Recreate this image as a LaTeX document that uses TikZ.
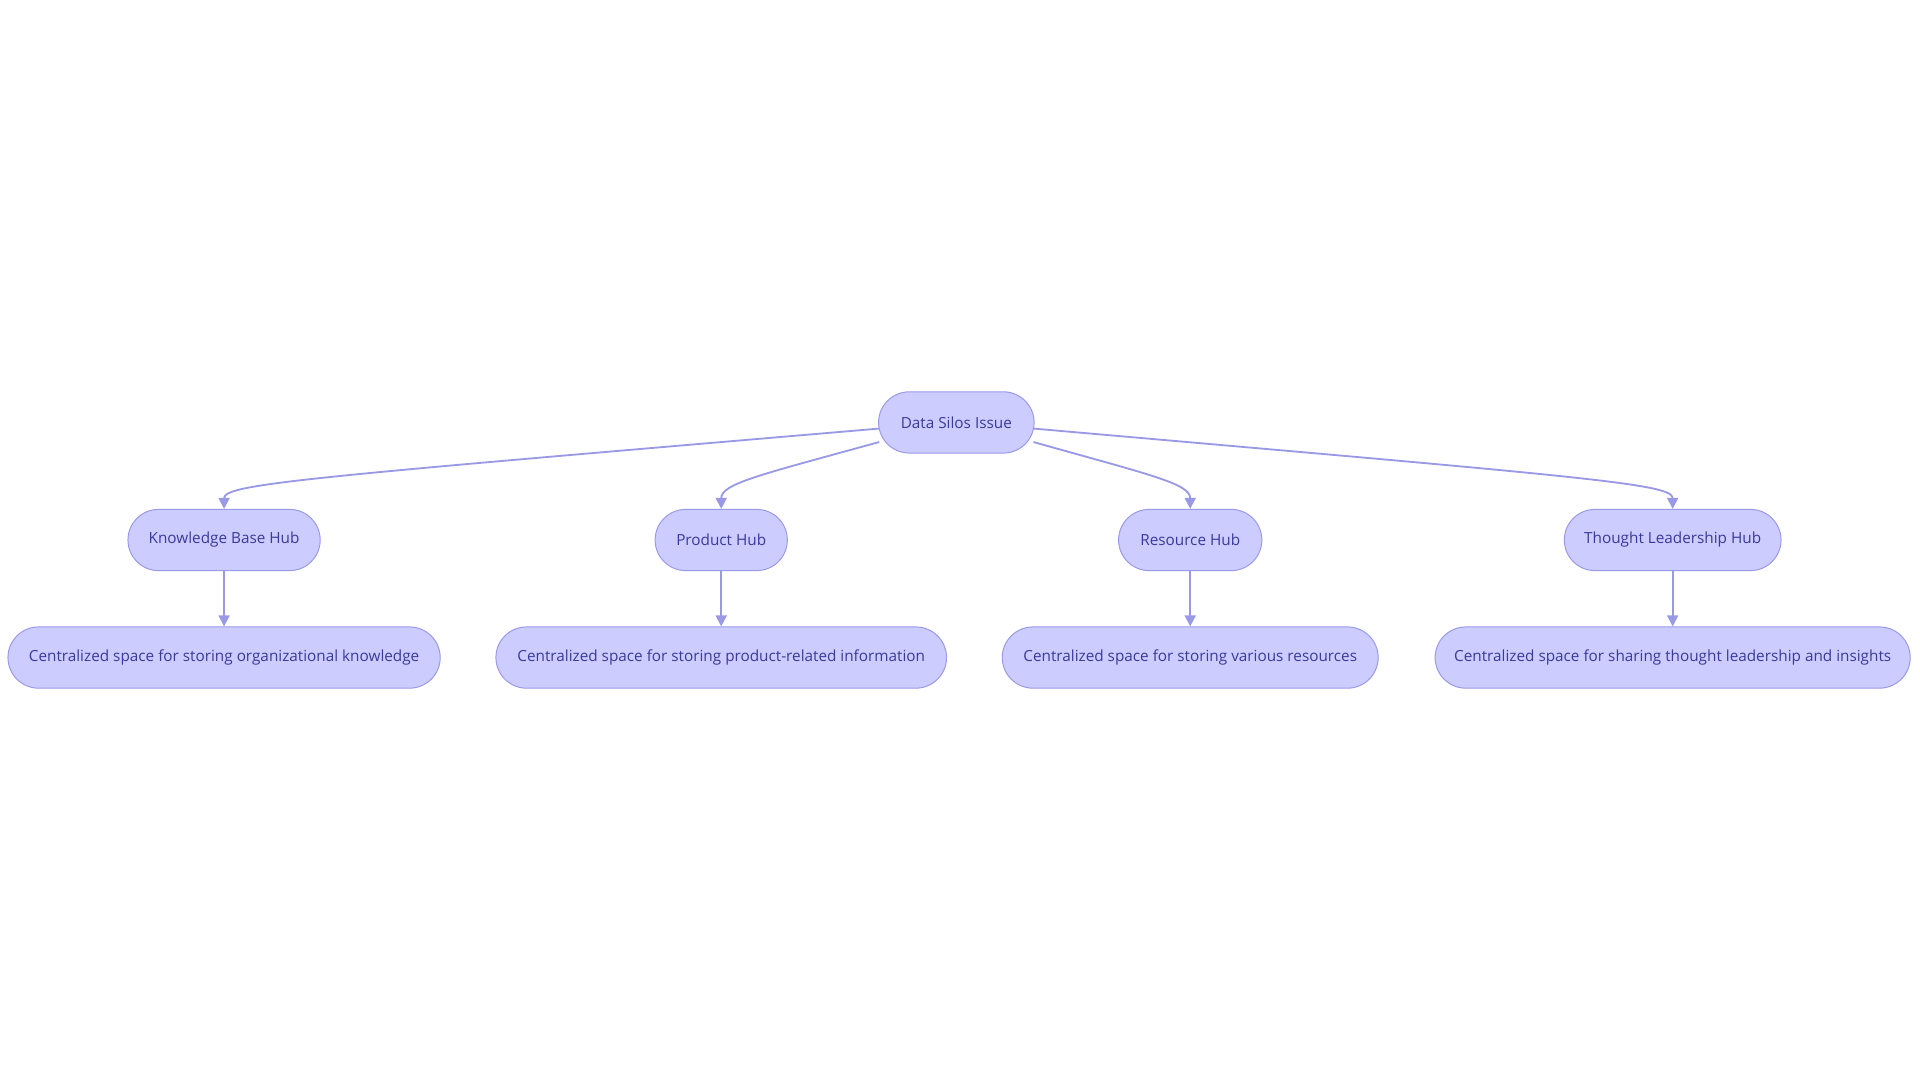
\documentclass[tikz,border=0pt]{standalone}
\usepackage{fontspec}
\setmainfont{Open Sans}
\usetikzlibrary{arrows.meta}
\definecolor{nfill}{HTML}{CCCCFF}
\definecolor{nline}{HTML}{9999E6}
\definecolor{ntext}{HTML}{3A3A9A}
\begin{document}
\begin{tikzpicture}[x=1pt,y=-1pt,
 box/.style={draw=nline,fill=nfill,rounded corners=25pt,minimum height=50pt,text=ntext,font=\fontsize{12.5}{14}\selectfont,inner sep=0pt,line width=0.8pt},
 conn/.style={draw=nline,line width=1.5pt,-{Triangle[length=9pt,width=9pt]}}]
\useasboundingbox (0,0) rectangle (1568,882);
\node[box,minimum width=127pt] (r) at (781,345) {Data Silos Issue};
\node[box,minimum width=157pt] (a) at (183,441) {Knowledge Base Hub};
\node[box,minimum width=108pt] (b) at (589,441) {Product Hub};
\node[box,minimum width=117pt] (c) at (972,441) {Resource Hub};
\node[box,minimum width=177pt] (d) at (1366,441) {Thought Leadership Hub};
\node[box,minimum width=353pt] (a1) at (183,537) {Centralized space for storing organizational knowledge};
\node[box,minimum width=368pt] (b1) at (589,537) {Centralized space for storing product-related information};
\node[box,minimum width=307pt] (c1) at (972,537) {Centralized space for storing various resources};
\node[box,minimum width=388pt] (d1) at (1366,537) {Centralized space for sharing thought leadership and insights};
\coordinate (r1) at (718,350);
\coordinate (r2) at (718,361);
\coordinate (r3) at (844,361);
\coordinate (r4) at (844,350);
\draw[conn] (r1) .. controls (250,390) and (183,395) .. (a.north);
\draw[conn] (r2) .. controls (620,388) and (589,395) .. (b.north);
\draw[conn] (r3) .. controls (940,388) and (972,395) .. (c.north);
\draw[conn] (r4) .. controls (1300,390) and (1366,395) .. (d.north);
\draw[conn] (a) -- (a1);
\draw[conn] (b) -- (b1);
\draw[conn] (c) -- (c1);
\draw[conn] (d) -- (d1);
\end{tikzpicture}
\end{document}
